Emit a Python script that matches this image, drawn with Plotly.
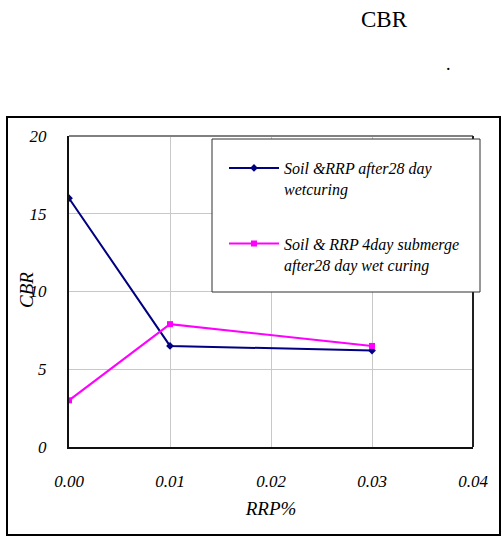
import plotly.graph_objects as go

# ---- data ----
rrp_pct = [0.00, 0.01, 0.03]
cbr_wet_curing = [16.0, 6.5, 6.2]
cbr_submerged = [3.0, 7.9, 6.5]
x_tick_vals = [0.00, 0.01, 0.02, 0.03, 0.04]
x_tick_text = ["0.00", "0.01", "0.02", "0.03", "0.04"]
y_tick_vals = [0, 5, 10, 15, 20]
series_names = ["Soil &RRP after28 day<br>wetcuring",
                "Soil & RRP 4day submerge<br>after28 day wet curing"]

W, H = 502, 537
# plot area in page pixels
L, R, T, B = 69, 473, 136, 447


def px(x):  # page x -> paper
    return (x - L) / (R - L)


def py(y):  # page y -> paper
    return (B - y) / (B - T)


SERIF = "Liberation Serif"

fig = go.Figure()
fig.add_trace(go.Scatter(
    x=rrp_pct, y=cbr_wet_curing, name=series_names[0], mode="lines+markers",
    line=dict(color="#000080", width=2),
    marker=dict(symbol="diamond", size=6, color="#000080"),
    legendgroup="a"))
fig.add_trace(go.Scatter(
    x=rrp_pct, y=cbr_submerged, name=series_names[1], mode="lines+markers",
    line=dict(color="#FF00FF", width=2),
    marker=dict(symbol="square", size=6, color="#FF00FF"),
    legendgroup="b"))

shapes = [
    dict(type="rect", xref="paper", yref="paper",
         x0=px(7), x1=px(500), y0=py(535), y1=py(117),
         line=dict(color="black", width=2)),
    dict(type="line", xref="paper", yref="paper",
         x0=0, x1=1, y0=1, y1=1, line=dict(color="#808080", width=2)),
    dict(type="line", xref="paper", yref="paper",
         x0=1, x1=1, y0=0, y1=1, line=dict(color="#202020", width=2)),
    dict(type="rect", xref="paper", yref="paper",
         x0=px(212), x1=px(480), y0=py(292), y1=py(139),
         line=dict(color="#303030", width=1), fillcolor="white", layer="above"),
]

annotations = [
    dict(text="CBR", xref="paper", yref="paper", x=px(384), y=py(19),
         xanchor="center", yanchor="middle",
         showarrow=False, font=dict(family=SERIF, size=23, color="black")),
    dict(text=".", xref="paper", yref="paper", x=px(448), y=py(64),
         xanchor="center", yanchor="middle",
         showarrow=False, font=dict(family=SERIF, size=18, color="black")),
    # y-axis title
    dict(text="CBR", xref="paper", yref="paper", x=px(26), y=py(290),
         xanchor="center", yanchor="middle", textangle=-90,
         showarrow=False,
         font=dict(family=SERIF, size=19, color="black", style="italic")),
]

fig.update_layout(
    width=W, height=H,
    margin=dict(l=L, r=W - R, t=T, b=H - B, pad=0, autoexpand=False),
    paper_bgcolor="white", plot_bgcolor="white",
    shapes=shapes, annotations=annotations,
    showlegend=True,
    legend=dict(
        x=px(224), y=py(151), xanchor="left", yanchor="top",
        bgcolor="rgba(0,0,0,0)", borderwidth=0,
        traceorder="grouped", tracegroupgap=31,
        itemwidth=50, valign="top",
        font=dict(family=SERIF, size=16, color="black", style="italic"),
    ),
    xaxis=dict(
        range=[0, 0.04], tickvals=x_tick_vals, ticktext=x_tick_text,
        automargin=False,
        showgrid=True, gridcolor="#C8C8C8", gridwidth=1,
        showline=True, linecolor="#101010", linewidth=2,
        ticks="", ticklabelstandoff=18, zeroline=False,
        tickfont=dict(family=SERIF, size=17, color="black", style="italic"),
        title=dict(text="RRP%", standoff=11,
                   font=dict(family=SERIF, size=19, color="black", style="italic")),
    ),
    yaxis=dict(
        range=[0, 20], tickvals=y_tick_vals,
        automargin=False,
        showgrid=True, gridcolor="#C8C8C8", gridwidth=1,
        showline=True, linecolor="#101010", linewidth=2,
        ticks="", ticklabelstandoff=17, zeroline=False,
        tickfont=dict(family=SERIF, size=17, color="black", style="italic"),
    ),
)

fig.write_html(
    "out.html",
    config={"displayModeBar": False},
    post_script="document.body.style.margin='0';document.body.style.overflow='hidden';",
)
